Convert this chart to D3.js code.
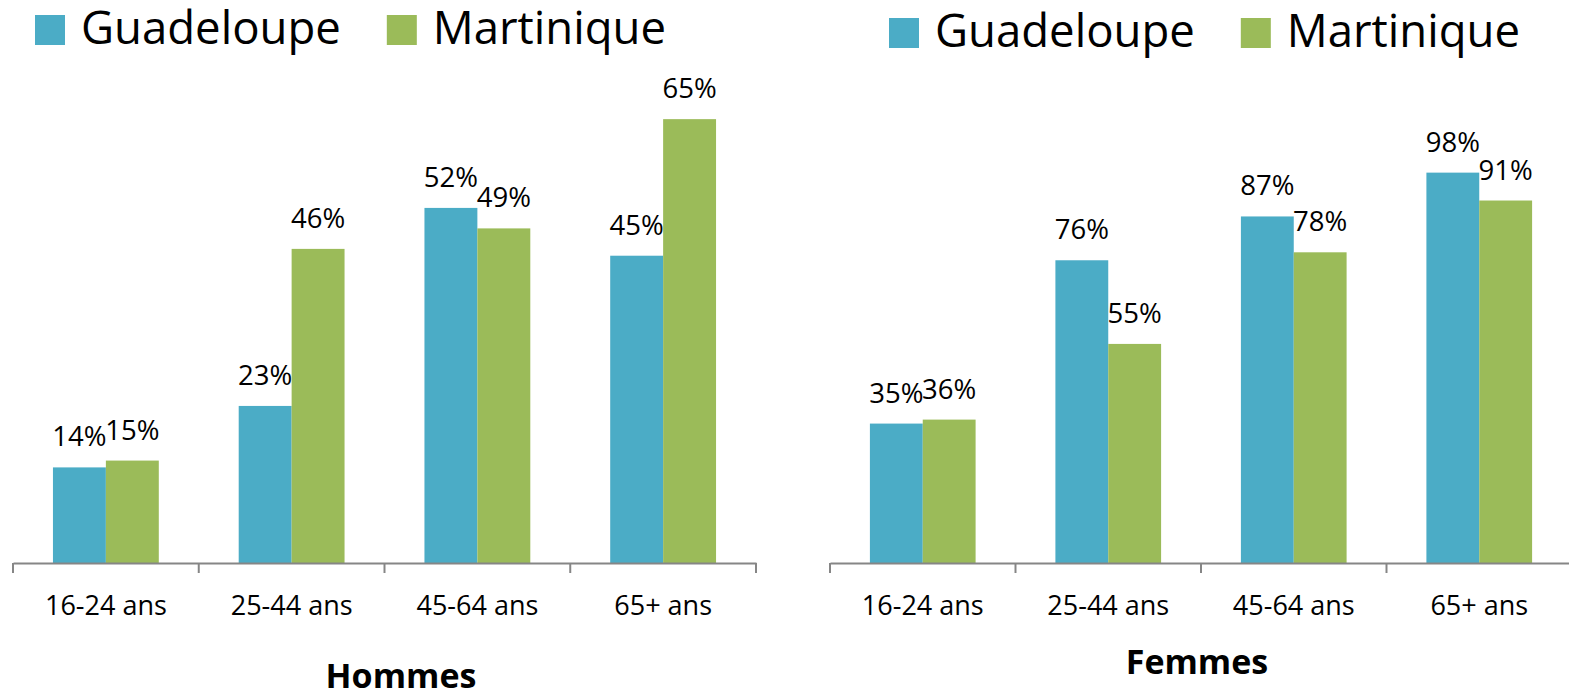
<!DOCTYPE html>
<html>
<head>
<meta charset="utf-8">
<script src="https://cdn.jsdelivr.net/npm/d3@7"></script>
<style>
    body { margin: 0; background: #fff; }
    svg { display: block; font-family: "Open Sans", sans-serif; }
</style>
</head>
<body>
<div id="chart"></div>
<script>
// data
const categories = ["16-24 ans", "25-44 ans", "45-64 ans", "65+ ans"];
const series = ["Guadeloupe", "Martinique"];
const hommesGuadeloupe = [0.14, 0.23, 0.52, 0.45];
const hommesMartinique = [0.15, 0.46, 0.49, 0.65];
const femmesGuadeloupe = [0.35, 0.76, 0.87, 0.98];
const femmesMartinique = [0.36, 0.55, 0.78, 0.91];

const colors = {"Guadeloupe": "#4BACC6", "Martinique": "#9BBB59"};

let svg = d3.select("#chart").append("svg")
    .attr("width", 1569)
    .attr("height", 694);

function drawPanel(cfg) {
    // x scales - outer for age groups, inner for the two islands
    let x0 = d3.scaleBand()
        .domain(categories)
        .range([cfg.left, cfg.right])
        .padding(0);

    let x1 = d3.scaleBand()
        .domain(series)
        .range([0, x0.bandwidth()])
        .paddingInner(0)
        .paddingOuter(0.755);

    let y = d3.scaleLinear()
        .domain([0, cfg.yMax])
        .range([563, 85]);

    let rows = categories.map((c, i) => ({
        cat: c,
        values: [
            {key: "Guadeloupe", value: cfg.guadeloupe[i]},
            {key: "Martinique", value: cfg.martinique[i]}
        ]
    }));

    let g = svg.append("g");

    let groups = g.selectAll(".grp")
        .data(rows)
        .enter()
        .append("g")
        .attr("class", "grp")
        .attr("transform", d => `translate(${x0(d.cat)},0)`);

    groups.selectAll("rect")
        .data(d => d.values)
        .enter()
        .append("rect")
        .attr("x", d => x1(d.key))
        .attr("y", d => y(d.value))
        .attr("width", x1.bandwidth())
        .attr("height", d => y(0) - y(d.value))
        .attr("fill", d => colors[d.key]);

    // value labels above bars
    groups.selectAll(".lbl")
        .data(d => d.values)
        .enter()
        .append("text")
        .attr("class", "lbl")
        .attr("x", d => x1(d.key) + x1.bandwidth() / 2)
        .attr("y", d => y(d.value) - 21)
        .attr("text-anchor", "middle")
        .style("font-size", "27.5px")
        .style("fill", "#000")
        .text(d => Math.round(d.value * 100) + "%");

    // x axis with category labels
    let axis = g.append("g")
        .attr("transform", `translate(0,${y(0)})`)
        .call(d3.axisBottom(x0).tickSize(0).tickSizeOuter(0));

    axis.select(".domain")
        .attr("stroke", "#868686")
        .attr("stroke-width", 2);

    axis.selectAll("text")
        .attr("y", 52)
        .attr("dy", 0)
        .style("font-family", "'Open Sans', sans-serif")
        .style("font-size", "27px")
        .style("fill", "#000");

    // tick marks sit between categories (excel style)
    g.selectAll(".sep")
        .data(d3.range(categories.length + 1))
        .enter()
        .append("line")
        .attr("class", "sep")
        .attr("x1", i => x0.range()[0] + i * x0.step())
        .attr("x2", i => x0.range()[0] + i * x0.step())
        .attr("y1", y(0))
        .attr("y2", y(0) + 10)
        .attr("stroke", "#868686")
        .attr("stroke-width", 2);

    // legend
    let legend = g.append("g");
    let lx = cfg.legendX;
    series.forEach(s => {
        legend.append("rect")
            .attr("x", lx)
            .attr("y", cfg.legendY - 29)
            .attr("width", 30)
            .attr("height", 30)
            .attr("fill", colors[s]);
        let t = legend.append("text")
            .attr("x", lx + 46)
            .attr("y", cfg.legendY)
            .style("font-size", "45.5px")
            .style("fill", "#000")
            .text(s);
        lx = lx + 46 + t.node().getComputedTextLength() + 46;
    });

    // panel title
    g.append("text")
        .attr("x", cfg.titleX)
        .attr("y", cfg.titleY)
        .attr("text-anchor", "middle")
        .style("font-size", "34px")
        .style("font-weight", "bold")
        .style("fill", "#000")
        .text(cfg.title);
}

drawPanel({
    left: 13, right: 756, yMax: 0.7,
    guadeloupe: hommesGuadeloupe, martinique: hommesMartinique,
    legendX: 35, legendY: 44,
    title: "Hommes", titleX: 401, titleY: 688
});

drawPanel({
    left: 830, right: 1572, yMax: 1.2,
    guadeloupe: femmesGuadeloupe, martinique: femmesMartinique,
    legendX: 889, legendY: 47,
    title: "Femmes", titleX: 1197, titleY: 674
});
</script>
</body>
</html>
